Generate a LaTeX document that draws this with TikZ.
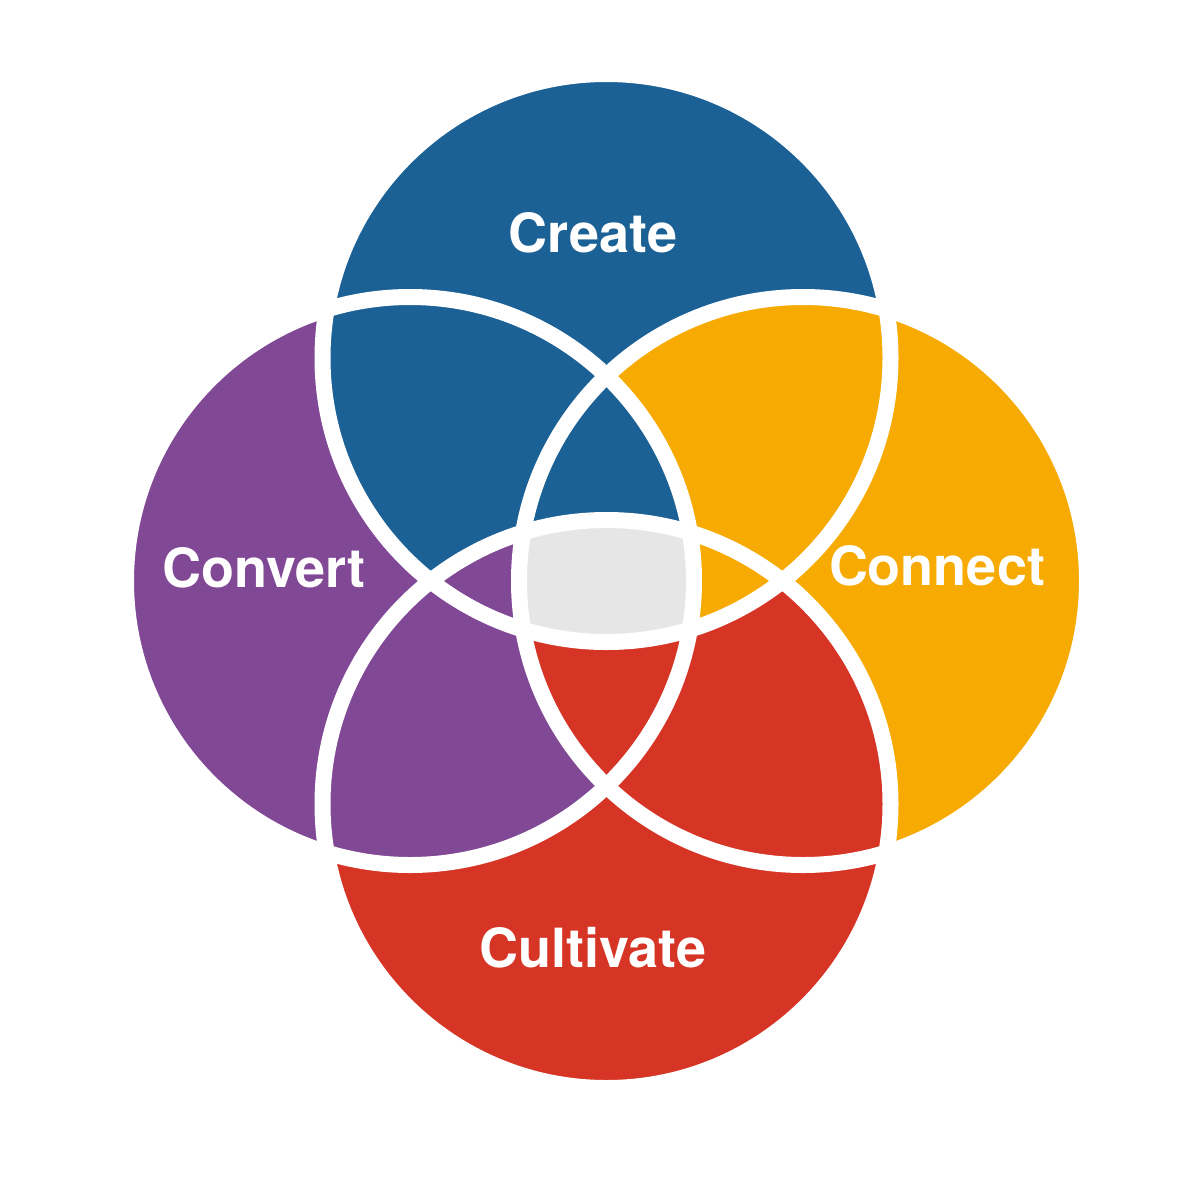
\documentclass[tikz,border=0pt]{standalone}
\usepackage{fontspec}
\setmainfont{TeX Gyre Heros}
\definecolor{cblue}{HTML}{1C6195}
\definecolor{cpurple}{HTML}{804895}
\definecolor{cyellow}{HTML}{F6AA02}
\definecolor{cred}{HTML}{D63526}
\definecolor{cgray}{HTML}{E6E6E6}
\begin{document}
\begin{tikzpicture}[x=1pt,y=-1pt,
  lbl/.style={text=white,anchor=base,inner sep=0pt,font=\fontsize{54}{60}\selectfont\bfseries},
  ring/.style={draw=white,line width=16pt}]
\useasboundingbox[fill=white] (0,0) rectangle (1200,1200);
\def\rr{284pt}
\coordinate (T) at (606.5,358);
\coordinate (L) at (410,581);
\coordinate (Q) at (803,581);
\coordinate (B) at (606.5,804);
% base fills
\fill[cpurple] (L) circle[radius=\rr];
\fill[cblue] (T) circle[radius=\rr];
\fill[cyellow] (Q) circle[radius=\rr];
\fill[cred] (B) circle[radius=\rr];
% pair overlaps
\begin{scope}\clip (T) circle[radius=\rr]; \fill[cblue] (L) circle[radius=\rr];\end{scope}
\begin{scope}\clip (T) circle[radius=\rr]; \fill[cyellow] (Q) circle[radius=\rr];\end{scope}
\begin{scope}\clip (Q) circle[radius=\rr]; \fill[cred] (B) circle[radius=\rr];\end{scope}
\begin{scope}\clip (B) circle[radius=\rr]; \fill[cpurple] (L) circle[radius=\rr];\end{scope}
% triple overlaps
\begin{scope}\clip (T) circle[radius=\rr]; \clip (L) circle[radius=\rr]; \fill[cblue] (Q) circle[radius=\rr];\end{scope}
\begin{scope}\clip (L) circle[radius=\rr]; \clip (T) circle[radius=\rr]; \fill[cpurple] (B) circle[radius=\rr];\end{scope}
\begin{scope}\clip (Q) circle[radius=\rr]; \clip (T) circle[radius=\rr]; \fill[cyellow] (B) circle[radius=\rr];\end{scope}
\begin{scope}\clip (B) circle[radius=\rr]; \clip (L) circle[radius=\rr]; \fill[cred] (Q) circle[radius=\rr];\end{scope}
% center
\begin{scope}\clip (T) circle[radius=\rr]; \clip (L) circle[radius=\rr]; \clip (Q) circle[radius=\rr]; \fill[cgray] (B) circle[radius=\rr];\end{scope}
% white rings
\draw[ring] (L) circle[radius=\rr];
\draw[ring] (T) circle[radius=\rr];
\draw[ring] (Q) circle[radius=\rr];
\draw[ring] (B) circle[radius=\rr];
% labels
\node[lbl] (create) at (593,252) {Create};
\node[lbl] (convert) at (264,587) {Convert};
\node[lbl] (connect) at (937,585) {Connect};
\node[lbl] (cultivate) at (593,967) {Cultivate};
\end{tikzpicture}
\end{document}
